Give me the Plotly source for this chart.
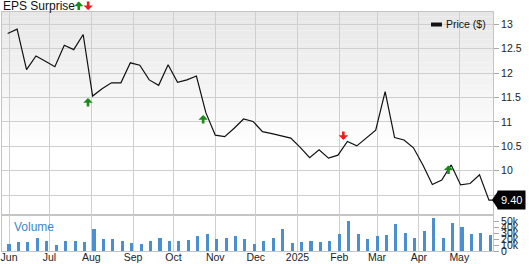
import pandas as pd
import plotly.graph_objects as go
from plotly.subplots import make_subplots

# ---------------- data ----------------
week_start = "2024-05-31"
price = [12.81, 12.90, 12.07, 12.35, 12.24, 12.13, 12.57, 12.48, 12.79, 11.53,
         11.68, 11.80, 11.80, 12.21, 12.16, 11.86, 11.75, 12.17, 11.81, 11.86,
         11.94, 11.19, 10.73, 10.70, 10.87, 11.06, 11.01, 10.80, 10.76, 10.71,
         10.67, 10.48, 10.27, 10.43, 10.26, 10.32, 10.60, 10.51, 10.67, 10.83,
         11.62, 10.68, 10.63, 10.47, 10.12, 9.72, 9.81, 10.12, 9.71, 9.74,
         9.92, 9.40]
last_date = "2025-05-26"
last_price = 9.40
volume_k = [12, 15, 15, 22, 18, 11, 17, 17, 15, 37,
            20.5, 20, 17, 13, 11.5, 17, 23, 16.5, 18, 19,
            26, 29, 20.5, 23, 25, 20, 12, 17.5, 22.7, 38,
            13, 15, 16.8, 16, 18, 29, 52, 29, 21, 26,
            27, 46, 31, 23, 34, 56, 21.6, 47, 41, 29,
            31, 28]
beat_dates = ["2024-07-29 14:00", "2024-10-23", "2025-04-23"]
beat_tip = [11.49, 11.14, 10.11]
miss_dates = ["2025-02-04"]
miss_tip = [10.63]
month_ticks = ["2024-06-01", "2024-07-01", "2024-08-01", "2024-09-01", "2024-10-01",
               "2024-11-01", "2024-12-01", "2025-01-01", "2025-02-01", "2025-03-01",
               "2025-04-01", "2025-05-01"]
month_labels = ["Jun", "Jul", "Aug", "Sep", "Oct", "Nov", "Dec", "2025", "Feb", "Mar",
                "Apr", "May"]
price_ticks = [9.5, 10, 10.5, 11, 11.5, 12, 12.5, 13]
price_tick_text = ["", "10", "10.5", "11", "11.5", "12", "12.5", "13"]
vol_ticks = [0, 10000, 20000, 30000, 40000, 50000]
vol_tick_text = ["0", "10k", "20k", "30k", "40k", "50k"]

dates = pd.date_range(week_start, periods=len(price), freq="7D")
line_x = list(dates) + [pd.Timestamp(last_date)]
line_y = price + [last_price]
bar_x = dates + pd.Timedelta(days=1)
bar_y = [v * 1000 for v in volume_k]

FONT = "Liberation Sans, Arial, sans-serif"
GRID = "#cfcfcf"
BLUE = "#4a8fd0"
GREEN = "#1a8a1a"
RED = "#ee1c1c"

fig = make_subplots(rows=2, cols=1, shared_xaxes=True, vertical_spacing=0,
                    row_heights=[0.849, 0.151])

fig.add_trace(go.Scatter(x=line_x, y=line_y, mode="lines",
                         line=dict(color="#111111", width=1.2),
                         showlegend=False), row=1, col=1)
fig.add_trace(go.Bar(x=bar_x, y=bar_y, marker=dict(color=BLUE, line=dict(width=0)),
                     width=2.3 * 86400000, showlegend=False), row=2, col=1)

x_range = ["2024-05-26 19:00", "2025-05-26"]
fig.update_xaxes(range=x_range, type="date", tickvals=month_ticks, ticktext=month_labels,
                 showgrid=True, gridcolor=GRID, gridwidth=1, showline=True,
                 linecolor="#c4c4c4", mirror=True, ticks="", zeroline=False)
fig.update_xaxes(showticklabels=False, row=1, col=1)
fig.update_xaxes(showticklabels=True, tickfont=dict(family=FONT, size=10.5, color="#222"),
                 ticklabelstandoff=-4, row=2, col=1)

fig.update_yaxes(side="right", range=[9.097, 13.25], tickvals=price_ticks,
                 ticktext=price_tick_text, showgrid=True, gridcolor=GRID,
                 ticks="outside", ticklen=5, tickcolor="#a8a8a8",
                 tickfont=dict(family=FONT, size=10.5, color="#222"),
                 showline=True, linecolor="#c4c4c4", mirror=True, zeroline=False,
                 row=1, col=1)
fig.update_yaxes(side="right", range=[0, 61400], tickvals=vol_ticks,
                 ticktext=vol_tick_text, showgrid=False,
                 ticks="outside", ticklen=5, tickcolor="#a8a8a8",
                 tickfont=dict(family=FONT, size=10.5, color="#222"),
                 showline=True, linecolor="#c4c4c4", mirror=True, zeroline=False,
                 row=2, col=1)

# gradient background of the price panel
N = 30
for i in range(N):
    top = 1 - i * 0.68 / N
    bot = 1 - (i + 1) * 0.68 / N
    c = int(round(231 + (255 - 231) * (i + 0.5) / N))
    fig.add_shape(type="rect", xref="paper", yref="y domain", x0=0, x1=1,
                  y0=bot, y1=top, line=dict(width=0),
                  fillcolor=f"rgb({c},{c},{c})", layer="below")


def arrow(x, y, up, color, xref="x", yref="y"):
    return dict(x=x, y=y, xref=xref, yref=yref, text="", showarrow=True,
                ax=0, ay=9 if up else -9, arrowhead=1, arrowsize=0.6, arrowwidth=2.6,
                arrowcolor=color, standoff=0, startstandoff=0,
                font=dict(size=1), borderpad=0)


annotations = []
for d, t in zip(beat_dates, beat_tip):
    annotations.append(arrow(d, t, True, GREEN))
for d, t in zip(miss_dates, miss_tip):
    annotations.append(arrow(d, t, False, RED))
# title
annotations.append(dict(x=0, y=1.025, xref="paper", yref="paper", text="EPS Surprise",
                        showarrow=False, xanchor="left", yanchor="middle", xshift=-1,
                        font=dict(family=FONT, size=12, color="#111")))
annotations.append(arrow(0.1564, 1.044, True, GREEN, "paper", "paper"))
annotations.append(arrow(0.1755, 1.008, False, RED, "paper", "paper"))
# legend
annotations.append(dict(x=0.9008, y=0.9498, xref="paper", yref="paper", text="Price ($)",
                        showarrow=False, xanchor="left", yanchor="middle",
                        font=dict(family=FONT, size=10.5, color="#111")))
fig.add_shape(type="rect", xref="paper", yref="paper", x0=0.8737, x1=0.896,
              y0=0.9393, y1=0.956, fillcolor="#111", line=dict(width=0))
# volume label
annotations.append(dict(x=0.021, y=0.1017, xref="paper", yref="paper", text="Volume",
                        showarrow=False, xanchor="left", yanchor="middle",
                        font=dict(family=FONT, size=12, color="#3f86c6")))
# last price label
annotations.append(dict(x=1, y=last_price, xref="paper", yref="y", text=f"{last_price:.2f}",
                        showarrow=False, xanchor="left", yanchor="middle", xshift=4,
                        bgcolor="#000", borderpad=3,
                        font=dict(family=FONT, size=11, color="#fff")))
fig.add_shape(type="path", xref="paper", yref="y", xsizemode="pixel", ysizemode="pixel",
              xanchor=1, yanchor=last_price, path="M -1,0 L 5,-9 L 5,9 Z",
              fillcolor="#000", line=dict(width=0))

fig.update_layout(
    template="none",
    width=529, height=264,
    margin=dict(l=2, r=36, t=12, b=13, autoexpand=False),
    paper_bgcolor="#ffffff", plot_bgcolor="#ffffff",
    bargap=0, showlegend=False,
    annotations=annotations,
    font=dict(family=FONT),
)

fig.write_html("out.html", config={"displayModeBar": False})
